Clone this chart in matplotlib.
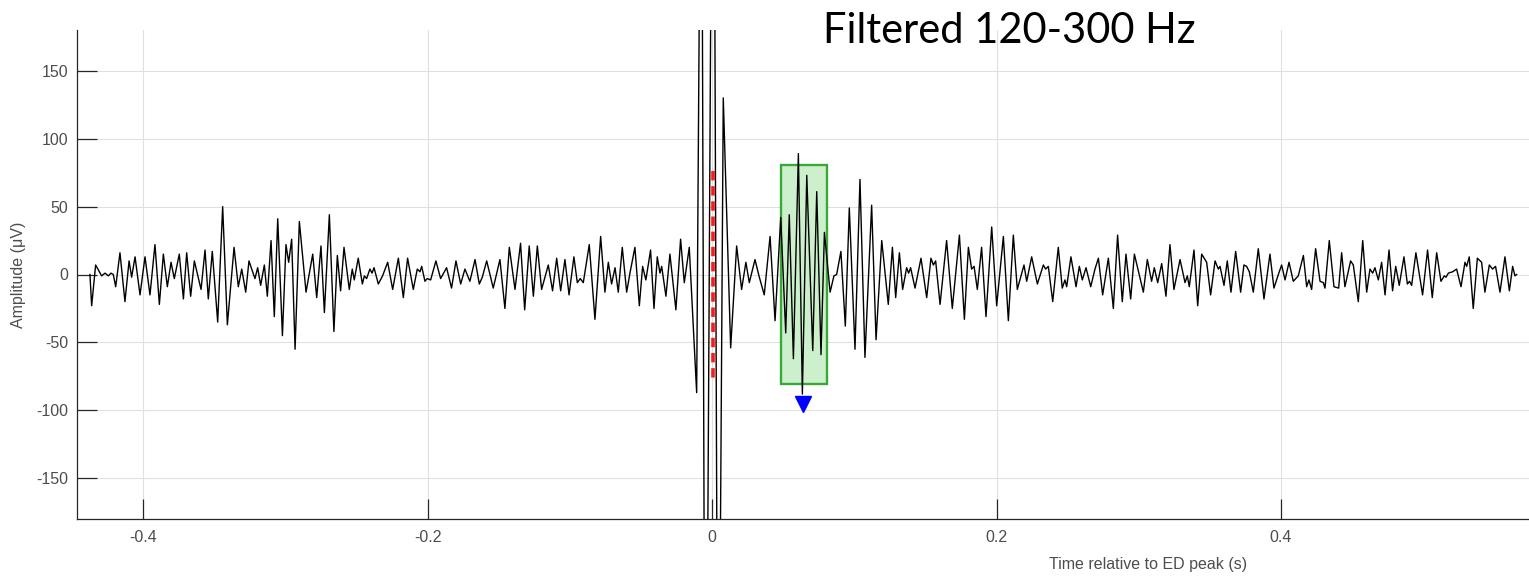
"""Filtered (120-300 Hz) trace around an ED peak, with the detected HFO window."""

import numpy as np
import matplotlib
matplotlib.use("Agg")
import matplotlib.pyplot as plt  # noqa: E402
from matplotlib.patches import Rectangle  # noqa: E402

# trace (time in ms, amplitude in uV)
t_ms = [
    -437.3, -436.1, -433.3, -429.1, -426.7, -424.4, -422.5, -420.9, -419.2, -416.2,
    -412.7, -409.8, -408.0, -405.6, -402.1, -398.6, -395.1, -391.6, -388.5, -385.7,
    -382.9, -380.3, -378.0, -374.5, -371.6, -369.3, -366.5, -363.9, -359.2, -356.4,
    -354.1, -351.3, -347.5, -344.0, -340.7, -336.0, -333.0, -330.6, -327.8, -325.5,
    -323.6, -321.3, -319.4, -317.3, -314.7, -312.6, -310.0, -307.7, -305.3, -302.0,
    -299.5, -297.6, -295.5, -293.1, -290.1, -285.4, -280.7, -277.9, -274.9, -272.5,
    -269.0, -265.8, -263.4, -261.1, -258.7, -255.0, -252.9, -251.5, -248.7, -245.8,
    -244.4, -242.8, -240.5, -239.0, -237.6, -234.6, -231.6, -228.0, -224.5, -220.5,
    -217.0, -214.0, -210.0, -207.2, -205.3, -204.1, -201.8, -200.2, -197.8, -194.1,
    -190.8, -186.6, -183.1, -180.0, -176.7, -173.7, -170.2, -166.6, -163.6, -161.5,
    -158.4, -153.8, -149.1, -145.6, -142.5, -138.5, -134.6, -131.7, -128.5, -125.6,
    -122.8, -119.8, -115.1, -112.1, -109.2, -106.4, -103.4, -100.5,
    -97.1, -94.7, -92.6, -90.5, -86.3, -82.3, -78.3, -75.3, -72.9, -70.6,
    -68.2, -65.9, -63.1, -60.0, -57.7, -54.2, -51.1, -48.8, -46.5, -43.2,
    -40.8, -38.5, -36.6, -35.4, -32.4, -29.6, -25.4, -22.1, -19.5, -16.0,
    -10.8, -7.5, -4.6, 0.8, 4.3, 7.9, 13.1, 17.3, 20.8, 23.8,
    26.2, 30.2, 33.0, 36.7, 40.8, 44.3, 48.3, 51.8, 54.3, 57.2,
    60.7, 63.5, 66.6, 70.8, 73.6, 76.6, 79.0, 83.0, 85.7, 87.6,
    90.6, 93.7, 96.5, 100.5, 104.0,
    107.5, 112.2, 115.3, 119.3, 123.9, 126.8, 129.1, 131.7, 134.0, 136.8,
    138.2, 139.6, 142.7, 146.9, 150.9, 153.9, 155.6, 157.2, 160.3, 164.9,
    168.9, 173.9, 177.4, 180.2, 182.5, 184.2, 186.5, 189.5, 192.6, 196.6,
    200.1, 204.8, 208.3, 211.8, 214.6, 219.3, 221.2, 224.7, 228.7, 232.9,
    234.5, 236.4, 239.5, 243.4, 246.2, 248.1, 249.3, 252.3, 255.9, 258.2,
    260.3, 262.9, 266.2, 269.2, 271.6,
    274.6, 278.6, 282.1, 285.1, 288.4, 291.0, 294.3, 296.9, 300.3, 303.2,
    306.0, 309.0, 310.9, 313.3, 316.1, 319.1, 321.9, 324.7, 329.0, 332.5,
    334.1, 335.5, 338.8, 341.4, 344.2, 347.7, 350.5, 353.6, 355.9, 357.1,
    359.9, 362.2, 364.8, 368.1, 371.6, 373.9, 375.8, 377.7, 380.5, 384.0,
    388.0, 392.2, 395.0, 398.1, 400.4, 402.8, 405.6, 408.6, 412.1, 415.7,
    418.0, 419.6, 421.5, 424.3, 427.4, 429.7, 430.9, 433.9, 437.2, 440.5,
    442.6, 444.9, 448.9, 450.8, 454.3, 457.4, 460.2, 462.5, 464.4, 466.0,
    468.4, 470.7, 473.1, 475.9, 478.4, 480.6, 483.1, 486.4, 488.8, 490.3,
    491.8, 494.8, 499.5, 503.0, 506.3, 509.4, 512.4, 514.8, 516.0, 517.6,
    520.6, 523.4, 526.5, 529.3, 530.5, 532.3, 535.1, 538.0, 541.0, 543.3,
    546.4, 548.7, 550.8, 553.9, 557.4, 560.5, 562.8, 564.4, 565.6,
]
amp_uv = [
    0, -23, 7, -1, 1, -1, 1, 0, -9, 16,
    -20, 10, -2, 13, -15, 13, -15, 22, -22, 15,
    -9, 9, -3, 15, -18, 16, -16, 10, -11, 18,
    -18, 17, -35, 50, -37, 20, -9, 4, -13, 10,
    4, -3, 5, -8, 7, -16, 25, -31, 41, -45,
    22, 9, 26, -55, 39, -13, 15, -17, 21, -28,
    44, -42, 14, -12, 20, -11, 4, -4, 12, -7,
    -1, -3, 4, 1, 5, -7, -1, 9, -11, 12,
    -17, 12, -11, 4, 2, 6, -5, -3, -4, 10,
    -3, 5, -10, 10, -7, 4, -5, 11, -7, -2,
    10, -10, 11, -25, 20, -11, 23, -26, 21, -16,
    21, -11, 7, -12, 12, -12, 11, -15,
    13, -6, -3, -6, 22, -33, 28, -13, 9, -7,
    5, -13, 20, -13, 1, 20, -23, 6, -4, 18,
    -25, 13, 1, 6, -16, 15, -26, 26, -6, 20,
    -87, 420, -500, 520, -450, 130, -54, 21, -11, 9,
    -6, 11, -1, -15, 28, -34, 42, -43, 44, -62,
    89, -88, 73, -56, 61, -59, 31, -13, -1, 0,
    17, -38, 49, -55, 70,
    -61, 51, -48, 25, -22, 20, -17, 16, -11, 5,
    1, 5, -10, 12, -17, 12, 7, 10, -22, 25,
    -25, 29, -33, 20, 4, 6, -11, 20, -31, 35,
    -23, 28, -34, 29, -11, 7, -5, 13, -7, 7,
    4, 6, -20, 20, -10, -4, -9, 13, -9, 6,
    -4, 5, -9, 4, 12,
    -15, 12, -25, 29, -20, 15, -18, 15, 0, -13,
    11, -5, 5, -6, 8, -16, 22, -11, 11, -6,
    -1, -9, 18, -23, 15, 9, -15, 10, 4, 6,
    -8, 10, -13, 17, -13, 7, 6, 2, -13, 19,
    -18, 15, -10, 0, 7, -4, 9, -5, -1, 14,
    -9, -4, -11, 19, -5, -6, -10, 25, -9, -10,
    16, -9, 10, 7, -20, 25, -13, 4, 1, 5,
    -4, 9, -15, 18, -12, 6, -8, 13, -7, -5,
    -8, 16, -15, 18, -17, 16, -5, -1, -2, 1,
    2, 4, -9, 9, 6, 13, -25, 12, 9, -13,
    7, 4, 6, -13, 13, -12, 6, -1, 0,
]

# annotations
ed_peak_s = 0.0005
ed_span_uv = [76, -80]
hfo_window_s = [0.0485, 0.0806]
hfo_span_uv = [-80.4, 80.4]
hfo_trough = (0.0638, -95)

x_ticks = [-0.4, -0.2, 0, 0.2, 0.4]
x_ticklabels = ["-0.4", "-0.2", "0", "0.2", "0.4"]
y_ticks = [-150, -100, -50, 0, 50, 100, 150]

W, H = 1529, 576
plt.rcParams["font.family"] = ["Liberation Sans", "DejaVu Sans"]
plt.rcParams["axes.unicode_minus"] = False

fig = plt.figure(figsize=(W / 100, H / 100), dpi=100, facecolor="white")
ax = fig.add_axes([77 / W, 1 - 519 / H, 1 - 77 / W, (519 - 30) / H])

t = np.array(t_ms) / 1000.0
ax.add_patch(Rectangle((hfo_window_s[0], hfo_span_uv[0]),
                       hfo_window_s[1] - hfo_window_s[0], hfo_span_uv[1] - hfo_span_uv[0],
                       facecolor="#ccf0cc", edgecolor="#38a838", lw=1.7, zorder=1))
ax.plot(t, amp_uv, color="black", lw=1.0, zorder=2, solid_joinstyle="round")
ax.plot([ed_peak_s, ed_peak_s], ed_span_uv, color="#ff1a1a", lw=2.6,
        dashes=(2.6, 1.6), zorder=3)
ax.plot(*hfo_trough, "v", color="#0000ff", ms=12, zorder=4)

ax.set_xlim(-0.4464, 0.5743)
ax.set_ylim(-180, 180)
ax.set_xticks(x_ticks)
ax.set_xticklabels(x_ticklabels)
ax.set_yticks(y_ticks)
ax.grid(True, color="#e0e0e0", lw=0.8, zorder=0)
ax.set_axisbelow(True)
for s in ("top", "right"):
    ax.spines[s].set_visible(False)
for s in ("left", "bottom"):
    ax.spines[s].set_color("#262626")
    ax.spines[s].set_linewidth(0.9)
ax.tick_params(direction="in", length=14.4, width=0.9, color="#262626",
               labelcolor="#4d4d4d", labelsize=11.5)
ax.tick_params(axis="x", pad=8)
ax.tick_params(axis="y", pad=6.5)

ax.set_xlabel("Time relative to ED peak (s)", fontsize=11.5, color="#4d4d4d")
ax.xaxis.set_label_coords((1148 - 77) / 1452, -0.078)
ax.set_ylabel("Amplitude (\u03bcV)", fontsize=11.5, color="#4d4d4d")
ax.yaxis.set_label_coords((26 - 77) / 1452, 0.5)

fig.text(823 / W, 1 - 42.7 / H, "Filtered 120-300 Hz", fontsize=30,
         family=["Lato", "DejaVu Sans"], ha="left", va="baseline", color="black")

fig.savefig("out.png", dpi=100)
plt.close(fig)
